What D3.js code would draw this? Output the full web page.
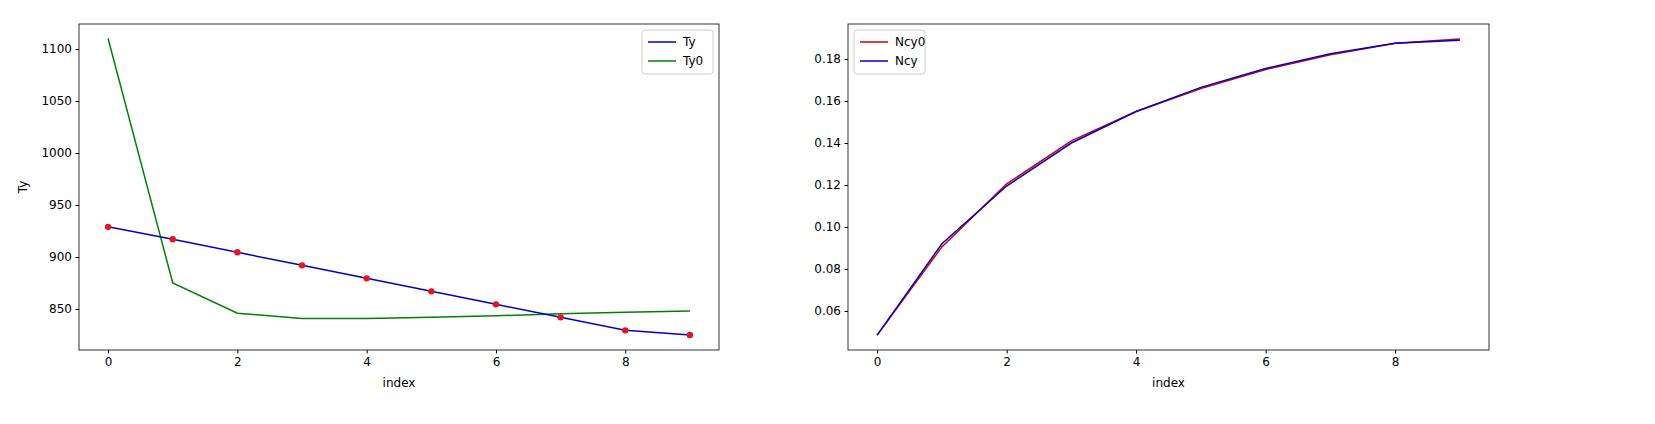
<!DOCTYPE html>
<html><head><meta charset="utf-8">
<script src="https://cdn.jsdelivr.net/npm/d3@7"></script>
<style>body{margin:0;background:#fff}text{font-family:"DejaVu Sans",sans-serif;font-size:12px}</style>
</head><body><svg id="c" width="1655" height="424"></svg>
<script>
const idx = [0,1,2,3,4,5,6,7,8,9];
const ty = [929,917,904.5,892,879.5,867,854.5,842,829.5,825];
const ty0 = [1110,875,846,841,841,842,843.5,845.5,847,848];
const ncy = [0.0485,0.092,0.1195,0.140,0.155,0.1665,0.1755,0.1825,0.1875,0.189];
const ncy0 = [0.0485,0.0905,0.1205,0.141,0.155,0.166,0.175,0.182,0.1875,0.1895];
const xTicks = [0,2,4,6,8];
const svg = d3.select('#c');

function panel(x0, x1, yDom, yTicks, fmt, series, legend, legendRight, yLabel){
  const top = 24, bot = 350;
  const x = d3.scaleLinear().domain([-0.45,9.45]).range([x0,x1]);
  const y = d3.scaleLinear().domain(yDom).range([bot,top]);
  const g = svg.append('g');
  g.append('g').attr('transform','translate(0,'+bot+')')
    .call(d3.axisBottom(x).tickValues(xTicks).tickSize(3.5).tickPadding(3.5).tickSizeOuter(0));
  g.append('g').attr('transform','translate('+x0+',0)')
    .call(d3.axisLeft(y).tickValues(yTicks).tickFormat(fmt).tickSize(3.5).tickPadding(3.5).tickSizeOuter(0));
  g.selectAll('.domain').remove();
  g.selectAll('.tick text').attr('font-size',12).attr('fill','#000');
  g.append('rect').attr('x',x0).attr('y',top).attr('width',x1-x0).attr('height',bot-top)
    .attr('fill','none').attr('stroke','#000').attr('stroke-width',0.8);
  series.forEach(s=>{
    g.append('path').datum(s.v).attr('fill','none').attr('stroke',s.c).attr('stroke-width',1.5)
      .attr('d',d3.line().x((d,i)=>x(idx[i])).y(d=>y(d)));
    if(s.dots) g.selectAll(null).data(s.v).join('circle').attr('cx',(d,i)=>x(idx[i])).attr('cy',d=>y(d))
      .attr('r',3.2).attr('fill','#e8141b');
  });
  g.append('text').attr('x',(x0+x1)/2).attr('y',387).attr('text-anchor','middle').text('index');
  if(yLabel) g.append('text').attr('transform','translate(27,'+(top+bot)/2+') rotate(-90)')
    .attr('text-anchor','middle').text(yLabel);
  const lw = 71, lh = 44;
  const lx = legendRight ? x1-6-lw : x0+6, ly = top+6;
  g.append('rect').attr('x',lx).attr('y',ly).attr('width',lw).attr('height',lh).attr('rx',3)
    .attr('fill','#fff').attr('stroke','#ccc');
  legend.forEach((l,i)=>{
    const yy = ly+12+i*19;
    g.append('line').attr('x1',lx+6).attr('x2',lx+34).attr('y1',yy).attr('y2',yy).attr('stroke',l.c).attr('stroke-width',1.5);
    g.append('text').attr('x',lx+41).attr('y',yy+4).text(l.n);
  });
}
panel(79,719,[810.6,1124],[850,900,950,1000,1050,1100],d3.format('d'),
  [{v:ty0,c:'#008000'},{v:ty,c:'#0000cc',dots:true}],
  [{n:'Ty',c:'#0000cc'},{n:'Ty0',c:'#008000'}],true,'Ty');
panel(848,1489,[0.0414,0.1967],[0.06,0.08,0.10,0.12,0.14,0.16,0.18],d3.format('.2f'),
  [{v:ncy0,c:'#d40000'},{v:ncy,c:'#0000cc'}],
  [{n:'Ncy0',c:'#d40000'},{n:'Ncy',c:'#0000cc'}],false,null);
</script></body></html>
